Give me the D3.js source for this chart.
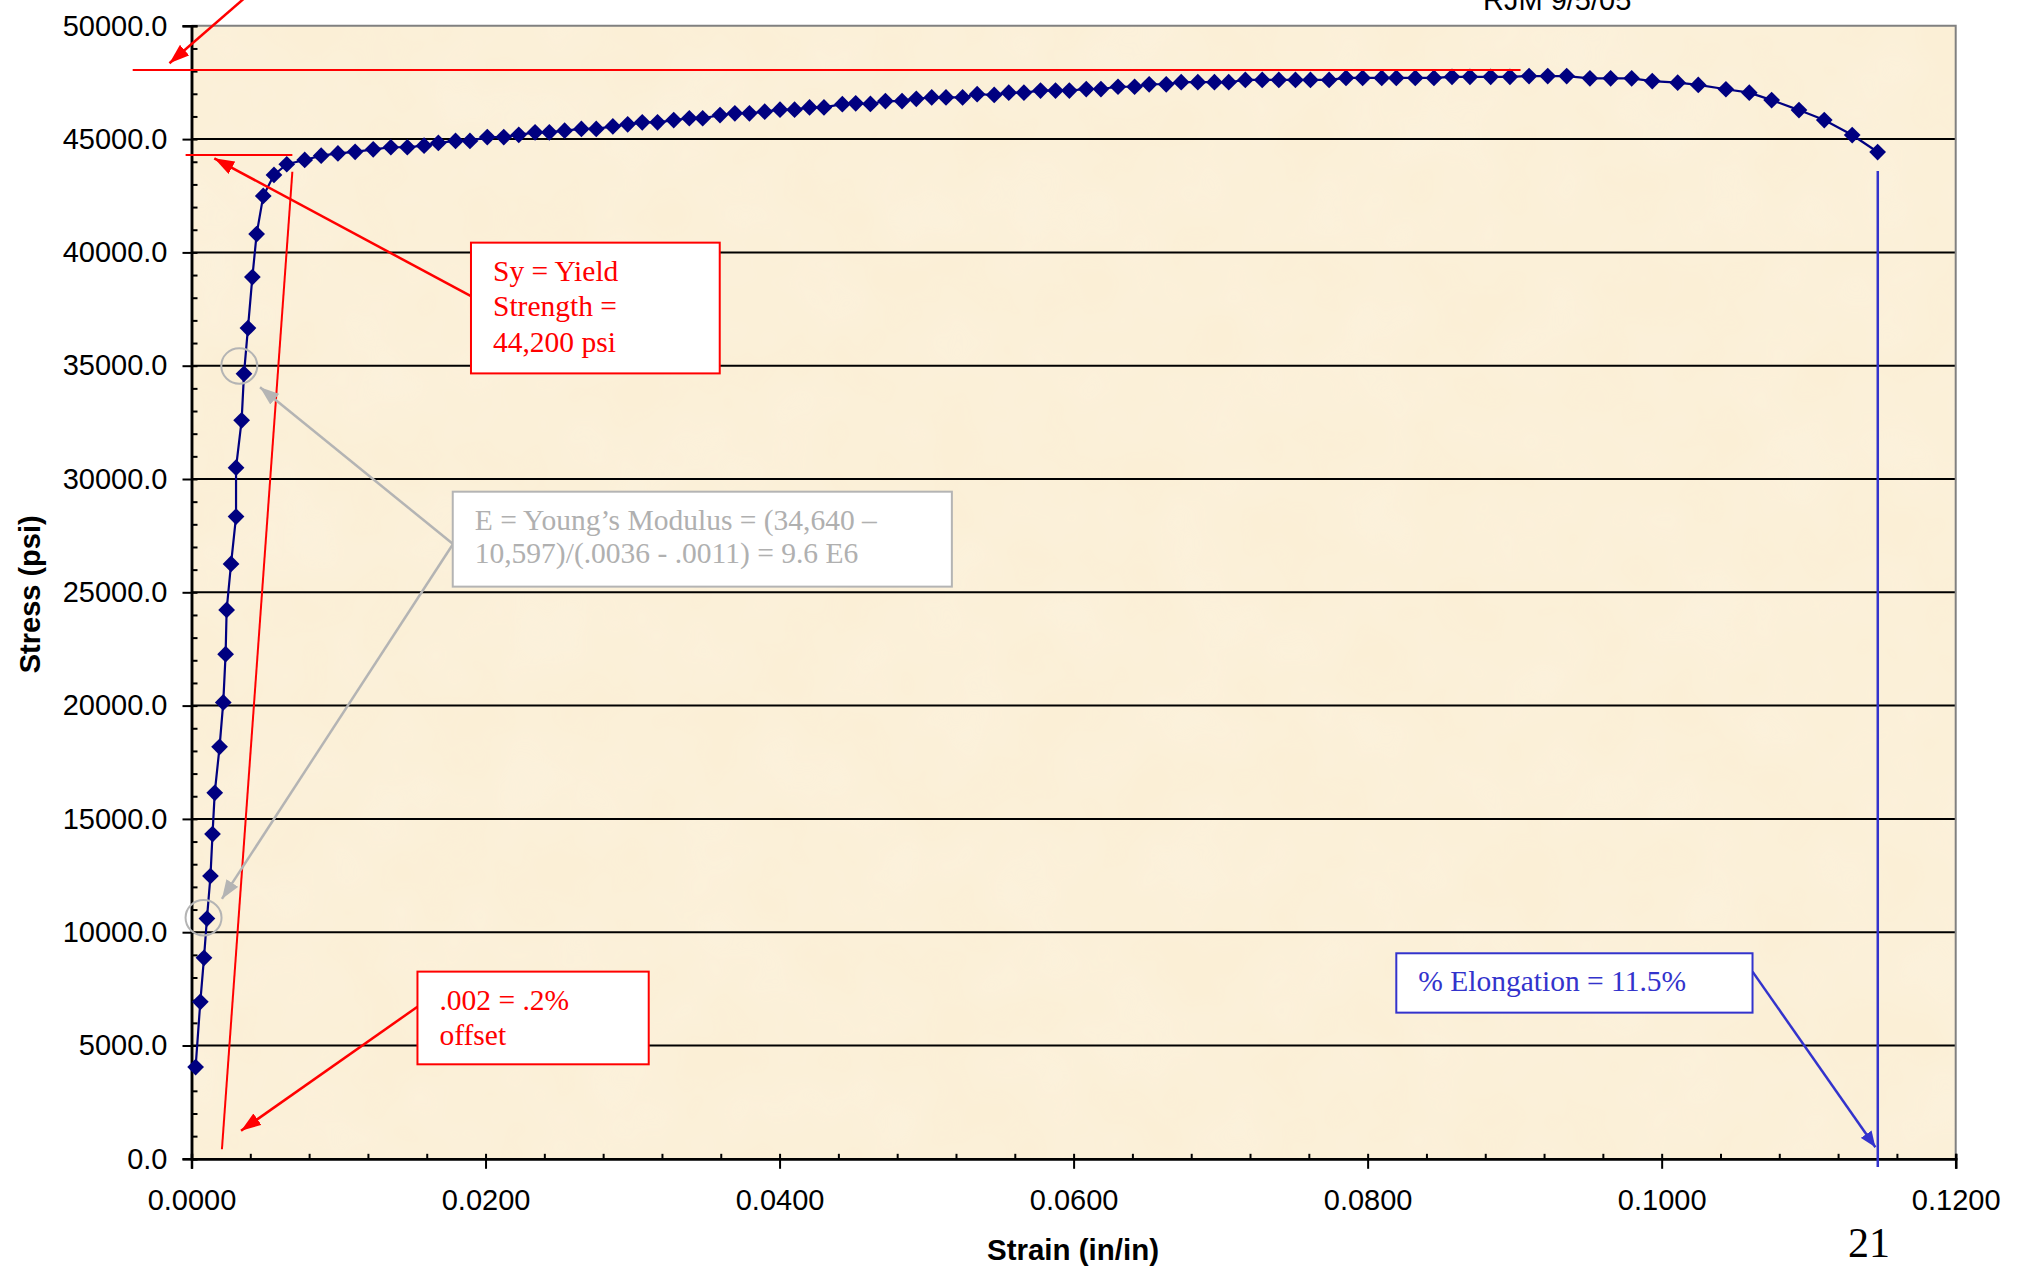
<!DOCTYPE html>
<html>
<head>
<meta charset="utf-8">
<script src="https://cdn.jsdelivr.net/npm/d3@7"></script>
<style>
    body { margin: 0; background: #ffffff; }
    svg { display: block; }
</style>
</head>
<body>
<div id="chart"></div>
<script>
// Tensile test data (strain in in/in, stress in psi)
var strain = [
    0.00028, 0.00060, 0.00085, 0.00105, 0.00129, 0.00143, 0.00158, 0.00191, 0.00216, 0.00232,
    0.00239, 0.00269, 0.00303, 0.00303, 0.00341, 0.00357, 0.00384, 0.00414, 0.00443, 0.00488,
    0.00561, 0.00648, 0.00770, 0.00882, 0.00996, 0.01113, 0.01236, 0.01356, 0.01468, 0.01582,
    0.01679, 0.01796, 0.01894, 0.02012, 0.02124, 0.02226, 0.02337, 0.02434, 0.02538, 0.02652,
    0.02753, 0.02866, 0.02967, 0.03066, 0.03170, 0.03280, 0.03386, 0.03477, 0.03595, 0.03696,
    0.03795, 0.03899, 0.04003, 0.04102, 0.04204, 0.04302, 0.04427, 0.04518, 0.04618, 0.04720,
    0.04833, 0.04930, 0.05035, 0.05132, 0.05245, 0.05344, 0.05460, 0.05559, 0.05662, 0.05775,
    0.05877, 0.05971, 0.06086, 0.06186, 0.06302, 0.06415, 0.06514, 0.06630, 0.06732, 0.06845,
    0.06958, 0.07055, 0.07168, 0.07283, 0.07396, 0.07509, 0.07611, 0.07738, 0.07853, 0.07966,
    0.08096, 0.08195, 0.08324, 0.08451, 0.08574, 0.08696, 0.08837, 0.08968, 0.09098, 0.09225,
    0.09354, 0.09512, 0.09653, 0.09796, 0.09936, 0.10109, 0.10249, 0.10437, 0.10596, 0.10748,
    0.10934, 0.11106, 0.11296, 0.11469
];
var stress = [
    4050, 6930, 8870, 10600, 12480, 14330, 16150, 18180, 20140, 22270,
    24220, 26250, 28340, 30500, 32590, 34640, 36660, 38910, 40810, 42490,
    43420, 43890, 44080, 44270, 44370, 44440, 44550, 44640, 44640, 44710,
    44830, 44920, 44920, 45090, 45090, 45190, 45300, 45300, 45370, 45450,
    45450, 45560, 45650, 45740, 45740, 45840, 45920, 45920, 46060, 46140,
    46140, 46210, 46300, 46300, 46400, 46400, 46540, 46580, 46550, 46680,
    46680, 46780, 46840, 46840, 46840, 46980, 46950, 47050, 47050, 47140,
    47140, 47140, 47210, 47210, 47310, 47310, 47420, 47420, 47510, 47510,
    47510, 47510, 47610, 47610, 47610, 47610, 47610, 47610, 47700, 47700,
    47700, 47700, 47700, 47700, 47750, 47750, 47750, 47750, 47780, 47780,
    47780, 47680, 47680, 47680, 47560, 47490, 47390, 47200, 47050, 46720,
    46280, 45840, 45180, 44430
];

var xTicks = [0, 0.02, 0.04, 0.06, 0.08, 0.10, 0.12];
var yTicks = [0, 5000, 10000, 15000, 20000, 25000, 30000, 35000, 40000, 45000, 50000];
var xMinorStep = 0.004;
var yMinorStep = 1000;

var xTitle = "Strain (in/in)";
var yTitle = "Stress (psi)";
var stamp = "RJM 9/5/05";
var pageNumber = "21";

// Annotation values, in data units
var utsStress = 48050;
var utsLineStrain = [-0.004, 0.0904];
var yieldLineStress = 44300;
var yieldLineStrain = [-0.0004, 0.00686];
var offsetLine = [[0.00207, 420], [0.00686, 43560]];
var elongationStrain = 0.1147;
var elongationTop = 43590;
var modulusPoints = [[0.00325, 34990], [0.00082, 10640]];
var topArrow = [[0.0041, 51500], [-0.0015, 48350]];

var notes = [
    {
        lines: ["Sy = Yield", "Strength =", "44,200 psi"],
        color: "#ff0000", textColor: "#ff0000", lineHeight: 35.8,
        box: [0.01901, 40430, 0.03593, 34660],
        from: [0.01901, 38070],
        to: [[0.00155, 44150]]
    },
    {
        lines: ["E = Young\u2019s Modulus = (34,640 \u2013", "10,597)/(.0036 - .0011) = 9.6 E6"],
        color: "#b4b4b4", textColor: "#b0b0b0", lineHeight: 33.5,
        box: [0.01777, 29440, 0.05172, 25250],
        from: [0.01779, 27130],
        to: [[0.00466, 34050], [0.00207, 11470]]
    },
    {
        lines: [".002 = .2%", "offset"],
        color: "#ff0000", textColor: "#ff0000", lineHeight: 35,
        box: [0.01537, 8260, 0.0311, 4170],
        from: [0.01537, 6710],
        to: [[0.00337, 1240]]
    },
    {
        lines: ["% Elongation = 11.5%"],
        color: "#3333cc", textColor: "#3333cc", lineHeight: 35,
        box: [0.08195, 9070, 0.10618, 6450],
        from: [0.10618, 8260],
        to: [[0.11454, 510]]
    }
];

var options = {
    width: 2019,
    height: 1273,
    left: 191.5,
    right: 1955.7,
    top: 25.8,
    bottom: 1158.8,
    sans: "'Liberation Sans', Arial, sans-serif",
    serif: "'Liberation Serif', 'Times New Roman', serif",
    navy: "#000080",
    plotFill: "#fbefd6",
    markerSize: 140
};

function range(start, stop, step)
{
    var out = [];
    var n = Math.round((stop - start) / step);
    for (var i = 0; i <= n; i++)
    {
        out.push(start + i * step);
    }
    return out;
}

function drawChart(id, options)
{
    var svg = d3.select("#" + id).append("svg")
        .attr("width", options.width)
        .attr("height", options.height);

    var x = d3.scaleLinear().domain([0, 0.12]).range([options.left, options.right]);
    var y = d3.scaleLinear().domain([0, 50000]).range([options.bottom, options.top]);

    var defs = svg.append("defs");

    // parchment texture
    var filter = defs.append("filter").attr("id", "paper")
        .attr("x", 0).attr("y", 0).attr("width", 1).attr("height", 1);
    filter.append("feTurbulence")
        .attr("type", "fractalNoise")
        .attr("baseFrequency", "0.012")
        .attr("numOctaves", 3)
        .attr("seed", 7);
    filter.append("feColorMatrix")
        .attr("type", "matrix")
        .attr("values", "0 0 0 0 0.99  0 0 0 0 0.95  0 0 0 0 0.86  0 0 0 0.35 -0.08");
    filter.append("feComposite").attr("in2", "SourceGraphic").attr("operator", "in");

    // arrow heads
    [["red", "#ff0000", 20, 14], ["gray", "#b4b4b4", 19, 14], ["blue", "#3333cc", 16, 13]].forEach(function (m)
    {
        defs.append("marker")
            .attr("id", "arrow-" + m[0])
            .attr("markerUnits", "userSpaceOnUse")
            .attr("markerWidth", m[2])
            .attr("markerHeight", m[3])
            .attr("refX", m[2])
            .attr("refY", m[3] / 2)
            .attr("orient", "auto")
            .append("path")
            .attr("d", "M0,0 L" + m[2] + "," + (m[3] / 2) + " L0," + m[3] + " Z")
            .style("fill", m[1]);
    });

    // Plot area
    svg.append("rect")
        .attr("x", options.left)
        .attr("y", options.top)
        .attr("width", options.right - options.left)
        .attr("height", options.bottom - options.top)
        .style("fill", options.plotFill);
    svg.append("rect")
        .attr("x", options.left)
        .attr("y", options.top)
        .attr("width", options.right - options.left)
        .attr("height", options.bottom - options.top)
        .style("fill", "#fbefd6")
        .attr("filter", "url(#paper)");

    // Gridlines
    svg.append("g").selectAll("line")
        .data(yTicks.filter(function (d) { return d > 0 && d < 50000; }))
        .enter().append("line")
        .attr("x1", options.left)
        .attr("x2", options.right)
        .attr("y1", function (d) { return y(d); })
        .attr("y2", function (d) { return y(d); })
        .style("stroke", "#000000")
        .style("stroke-width", 2);

    // Plot border (top and right)
    svg.append("path")
        .attr("d", "M" + options.left + "," + options.top + " H" + options.right + " V" + options.bottom)
        .style("fill", "none")
        .style("stroke", "#808080")
        .style("stroke-width", 2);

    // Minor ticks (inside)
    svg.append("g")
        .attr("transform", "translate(" + options.left + ",0)")
        .call(d3.axisLeft(y).tickValues(range(0, 50000, yMinorStep)).tickSize(-6).tickFormat(""))
        .call(styleAxis);
    svg.append("g")
        .attr("transform", "translate(0," + options.bottom + ")")
        .call(d3.axisBottom(x).tickValues(range(0, 0.12, xMinorStep)).tickSize(-5).tickFormat(""))
        .call(styleAxis);

    // Major axes
    var yAxis = svg.append("g")
        .attr("transform", "translate(" + options.left + ",0)")
        .call(d3.axisLeft(y).tickValues(yTicks).tickSize(9).tickPadding(15).tickFormat(d3.format(".1f")))
        .call(styleAxis);
    var xAxis = svg.append("g")
        .attr("transform", "translate(0," + options.bottom + ")")
        .call(d3.axisBottom(x).tickValues(xTicks).tickSize(10).tickPadding(21).tickFormat(d3.format(".4f")))
        .call(styleAxis);

    [yAxis, xAxis].forEach(function (g)
    {
        g.selectAll("text")
            .style("font-family", options.sans)
            .style("font-size", "29px")
            .style("fill", "#000000");
    });

    // Axis titles
    svg.append("text")
        .attr("transform", "translate(40," + ((options.top + options.bottom) / 2 + 2) + ") rotate(-90)")
        .attr("text-anchor", "middle")
        .style("font-family", options.sans)
        .style("font-weight", "bold")
        .style("font-size", "29px")
        .text(yTitle);

    svg.append("text")
        .attr("x", 1073)
        .attr("y", 1260)
        .attr("text-anchor", "middle")
        .style("font-family", options.sans)
        .style("font-weight", "bold")
        .style("font-size", "29.5px")
        .text(xTitle);

    svg.append("text")
        .attr("x", 1483)
        .attr("y", 10)
        .style("font-family", options.sans)
        .style("font-size", "29px")
        .text(stamp);

    svg.append("text")
        .attr("x", 1848)
        .attr("y", 1257)
        .style("font-family", options.serif)
        .style("font-size", "42px")
        .text(pageNumber);

    // Data series
    var points = strain.map(function (s, i) { return [s, stress[i]]; });

    svg.append("path")
        .datum(points)
        .attr("d", d3.line()
            .x(function (d) { return x(d[0]); })
            .y(function (d) { return y(d[1]); }))
        .style("fill", "none")
        .style("stroke", options.navy)
        .style("stroke-width", 2.2);

    svg.append("g").selectAll("path")
        .data(points)
        .enter().append("path")
        .attr("d", d3.symbol().type(d3.symbolSquare).size(options.markerSize))
        .attr("transform", function (d) { return "translate(" + x(d[0]) + "," + y(d[1]) + ") rotate(45)"; })
        .style("fill", options.navy);

    // Red reference lines
    svg.append("line")
        .attr("x1", x(utsLineStrain[0])).attr("x2", x(utsLineStrain[1]))
        .attr("y1", y(utsStress)).attr("y2", y(utsStress))
        .style("stroke", "#ff0000").style("stroke-width", 2);

    svg.append("line")
        .attr("x1", x(yieldLineStrain[0])).attr("x2", x(yieldLineStrain[1]))
        .attr("y1", y(yieldLineStress)).attr("y2", y(yieldLineStress))
        .style("stroke", "#ff0000").style("stroke-width", 2);

    svg.append("line")
        .attr("x1", x(offsetLine[0][0])).attr("y1", y(offsetLine[0][1]))
        .attr("x2", x(offsetLine[1][0])).attr("y2", y(offsetLine[1][1]))
        .style("stroke", "#ff0000").style("stroke-width", 2);

    svg.append("line")
        .attr("x1", x(topArrow[0][0])).attr("y1", y(topArrow[0][1]))
        .attr("x2", x(topArrow[1][0])).attr("y2", y(topArrow[1][1]))
        .attr("marker-end", "url(#arrow-red)")
        .style("stroke", "#ff0000").style("stroke-width", 2.5);

    // Elongation marker line
    svg.append("line")
        .attr("x1", x(elongationStrain)).attr("x2", x(elongationStrain))
        .attr("y1", y(elongationTop)).attr("y2", y(-360))
        .style("stroke", "#3333cc").style("stroke-width", 2.5);

    // Circles round the modulus points
    svg.append("g").selectAll("ellipse")
        .data(modulusPoints)
        .enter().append("ellipse")
        .attr("cx", function (d) { return x(d[0]); })
        .attr("cy", function (d) { return y(d[1]); })
        .attr("rx", 18)
        .attr("ry", 17.7)
        .style("fill", "none")
        .style("stroke", "#b4b4b4")
        .style("stroke-width", 2);

    // Annotation boxes and arrows
    notes.forEach(function (note)
    {
        var markerId = note.color == "#ff0000" ? "red" : (note.color == "#3333cc" ? "blue" : "gray");

        note.to.forEach(function (t)
        {
            svg.append("line")
                .attr("x1", x(note.from[0])).attr("y1", y(note.from[1]))
                .attr("x2", x(t[0])).attr("y2", y(t[1]))
                .attr("marker-end", "url(#arrow-" + markerId + ")")
                .style("stroke", note.color)
                .style("stroke-width", 2.5);
        });

        var bx = x(note.box[0]);
        var by = y(note.box[1]);
        svg.append("rect")
            .attr("x", bx)
            .attr("y", by)
            .attr("width", x(note.box[2]) - bx)
            .attr("height", y(note.box[3]) - by)
            .style("fill", "#ffffff")
            .style("stroke", note.color)
            .style("stroke-width", 2);

        var text = svg.append("text")
            .style("font-family", options.serif)
            .style("font-size", "29.5px")
            .style("fill", note.textColor);

        note.lines.forEach(function (line, i)
        {
            text.append("tspan")
                .attr("x", bx + 22)
                .attr("y", by + 38 + i * note.lineHeight)
                .text(line);
        });
    });
}

function styleAxis(g)
{
    g.select(".domain").style("stroke", "#000000").style("stroke-width", 2.5);
    g.selectAll(".tick line").style("stroke", "#000000").style("stroke-width", 2);
}

drawChart("chart", options);
</script>
</body>
</html>
